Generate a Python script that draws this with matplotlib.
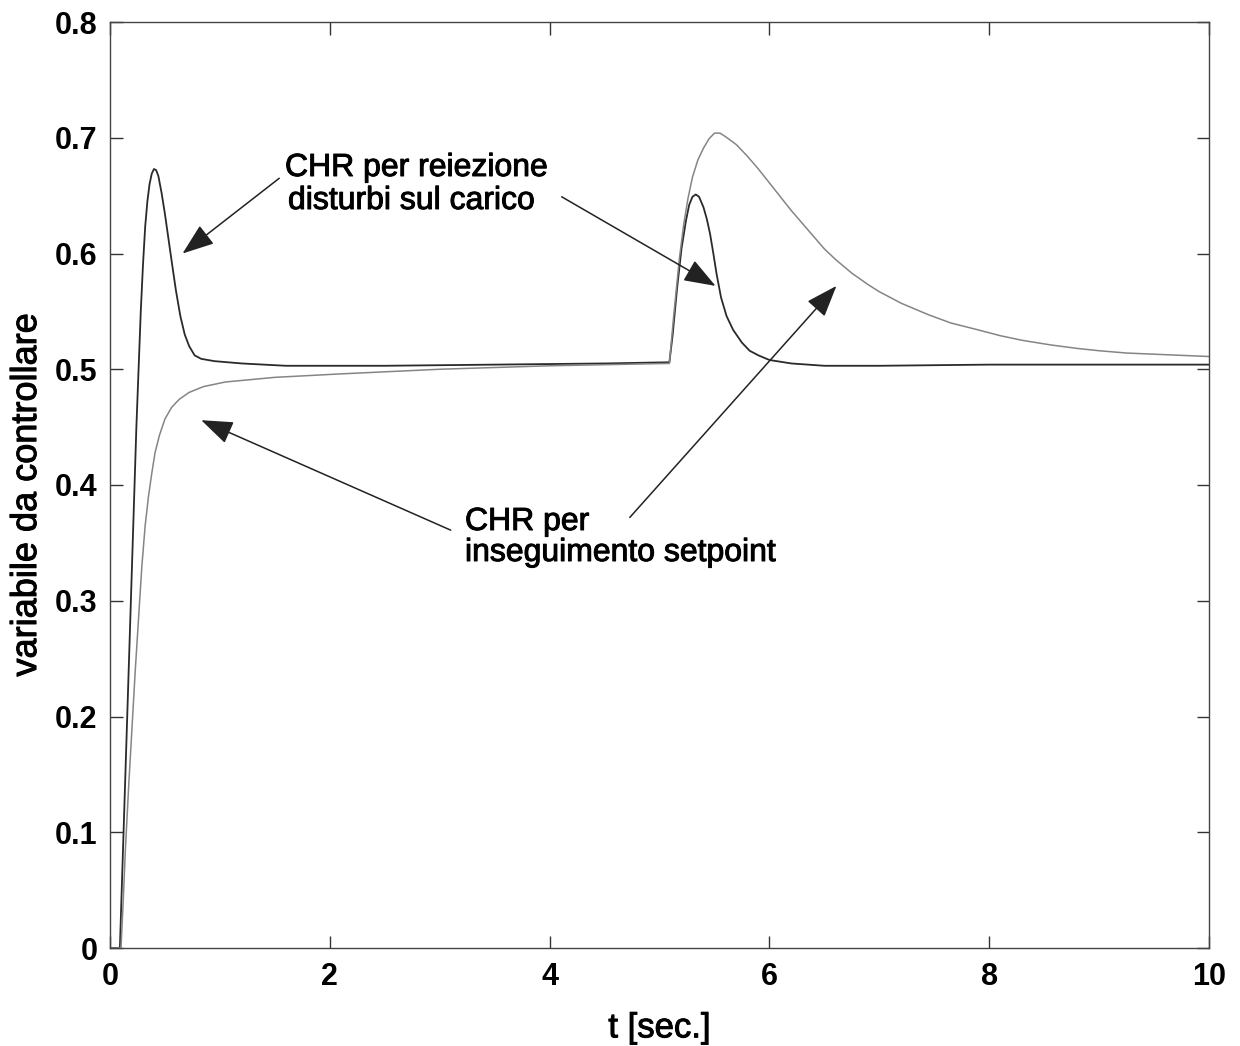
import numpy as np
import matplotlib
matplotlib.use("Agg")
import matplotlib.pyplot as plt
import matplotlib.patheffects as pe
from matplotlib.ticker import FormatStrFormatter

plt.rcParams['font.family'] = ['Liberation Sans', 'DejaVu Sans']

# --------------------------
# Dati
# --------------------------
# CHR tarato per reiezione disturbi sul carico (curva scura)
t_dist = [0.0, 0.09, 0.10, 0.12, 0.14, 0.16, 0.18, 0.20, 0.22, 0.24, 0.26, 0.28,
          0.30, 0.32, 0.34, 0.36, 0.38, 0.40, 0.42, 0.44, 0.47, 0.50, 0.53, 0.56,
          0.60, 0.64, 0.68, 0.72, 0.77, 0.83, 0.95, 1.2, 1.6, 2.5, 3.5, 4.5, 5.07,
          5.09, 5.12, 5.16, 5.20, 5.24, 5.27, 5.30, 5.33, 5.36, 5.40, 5.43, 5.46,
          5.49, 5.52, 5.56, 5.61, 5.67, 5.75, 5.82, 5.90, 6.0, 6.2, 6.5, 7.0,
          8.0, 9.0, 10.0]
y_dist = [0.0, 0.0, 0.03, 0.09, 0.15, 0.21, 0.27, 0.33, 0.39, 0.45, 0.50, 0.55,
          0.59, 0.623, 0.645, 0.66, 0.669, 0.673, 0.672, 0.667, 0.652, 0.634, 0.614, 0.594,
          0.568, 0.546, 0.530, 0.520, 0.512, 0.509, 0.507, 0.505, 0.503, 0.503, 0.504, 0.505, 0.506,
          0.506, 0.53, 0.57, 0.604, 0.628, 0.642, 0.649, 0.651, 0.649, 0.64, 0.63, 0.617,
          0.600, 0.582, 0.562, 0.546, 0.534, 0.523, 0.516, 0.512, 0.508, 0.505, 0.503, 0.503,
          0.504, 0.504, 0.504]

# CHR tarato per inseguimento del setpoint (curva chiara)
t_sp = [0.0, 0.10, 0.12, 0.14, 0.17, 0.20, 0.23, 0.26, 0.29, 0.32, 0.35, 0.38,
        0.41, 0.45, 0.50, 0.56, 0.63, 0.72, 0.85, 1.05, 1.5, 2.1, 3.0, 4.0, 5.07,
        5.09, 5.13, 5.18, 5.22, 5.26, 5.30, 5.35, 5.40, 5.45, 5.50, 5.55, 5.60,
        5.70, 5.80, 5.90, 6.0, 6.1, 6.2, 6.3, 6.4, 6.5, 6.6, 6.75, 6.9, 7.0,
        7.2, 7.45, 7.65, 7.9, 8.1, 8.3, 8.56, 8.8, 9.0, 9.25, 9.5, 9.75, 10.0]
y_sp = [0.0, 0.0, 0.04, 0.085, 0.14, 0.19, 0.24, 0.285, 0.33, 0.365, 0.39, 0.41,
        0.428, 0.443, 0.457, 0.467, 0.474, 0.48, 0.485, 0.489, 0.493, 0.496, 0.50, 0.503, 0.505,
        0.505, 0.547, 0.595, 0.625, 0.648, 0.666, 0.681, 0.691, 0.699, 0.704, 0.704, 0.701,
        0.694, 0.684, 0.673, 0.661, 0.649, 0.637, 0.626, 0.615, 0.604, 0.595, 0.583, 0.573, 0.567,
        0.557, 0.547, 0.540, 0.534, 0.529, 0.525, 0.521, 0.518, 0.516, 0.514, 0.513, 0.512, 0.511]

x_ticks = [0, 2, 4, 6, 8, 10]
y_ticks = [0, 0.1, 0.2, 0.3, 0.4, 0.5, 0.6, 0.7, 0.8]

label_dist = ["CHR per reiezione", "disturbi sul carico"]
label_sp = ["CHR per", "inseguimento setpoint"]
# frecce: (punta, coda) in coordinate dati
arrows = [
    ((0.66, 0.600), (1.54, 0.665)),
    ((5.51, 0.572), (4.11, 0.649)),
    ((0.83, 0.456), (3.10, 0.361)),
    ((6.61, 0.572), (4.73, 0.372)),
]

W, H = 1240, 1046
fig = plt.figure(figsize=(W / 100, H / 100), dpi=100)
ax = fig.add_axes([110 / W, 1 - 948 / H, (1209 - 110) / W, (948 - 22) / H])

ax.plot(t_dist, y_dist, color='#2a2a2a', lw=1.3)
ax.plot(t_sp, y_sp, color='#858585', lw=1.1)

ax.set_xlim(0, 10)
ax.set_ylim(0, 0.8)
ax.set_xticks(x_ticks)
ax.set_yticks(y_ticks)
ax.yaxis.set_major_formatter(FormatStrFormatter('%g'))
ax.tick_params(direction='in', length=9, width=1, top=True, right=True,
               labelsize=22, colors='#333333', labelcolor='black')
ax.tick_params(axis='y', pad=9)
ax.tick_params(axis='x', pad=10)
for lab in ax.get_xticklabels() + ax.get_yticklabels():
    lab.set_fontweight('bold')
for sp in ax.spines.values():
    sp.set_color('#444444')
    sp.set_linewidth(1.0)

thick = [pe.withStroke(linewidth=0.7, foreground='black')]

ax.set_xlabel("t [sec.]", fontsize=25, labelpad=14, path_effects=thick)
ax.set_ylabel("variabile da controllare", fontsize=26, path_effects=thick)
ax.yaxis.set_label_coords(-0.06, 0.489)

for tip, tail in arrows:
    ax.annotate('', xy=tip, xytext=tail,
                arrowprops=dict(arrowstyle='-|>,head_length=0.6,head_width=0.22',
                                mutation_scale=33, color='#222222', lw=1.1,
                                shrinkA=0, shrinkB=0))

fig.text(285 / W, 1 - 176 / H, label_dist[0], fontsize=23, va='baseline', path_effects=thick)
fig.text(288 / W, 1 - 209 / H, label_dist[1], fontsize=23, va='baseline', path_effects=thick)
fig.text(465 / W, 1 - 530 / H, label_sp[0], fontsize=23, va='baseline', path_effects=thick)
fig.text(465 / W, 1 - 561 / H, label_sp[1], fontsize=23, va='baseline', path_effects=thick)

fig.savefig("out.png", dpi=100, facecolor='white')
